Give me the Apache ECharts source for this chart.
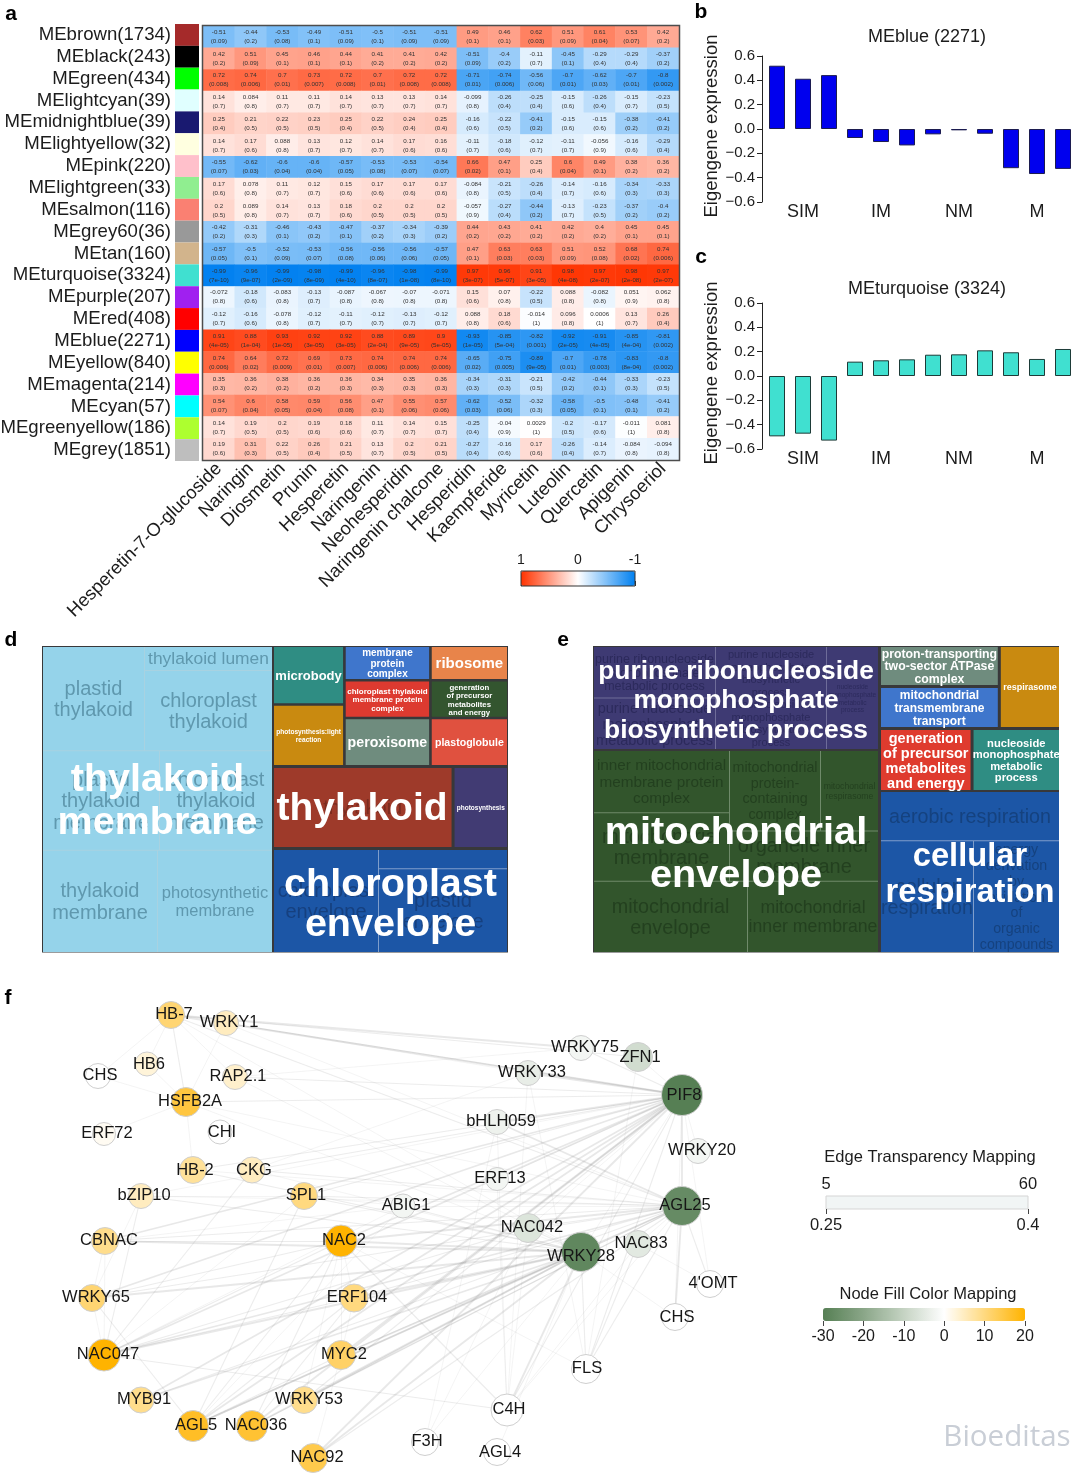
<!DOCTYPE html>
<html><head><meta charset="utf-8">
<style>html,body{margin:0;padding:0;background:#fff}#c{width:1080px;height:1474px}</style>
<script src="https://cdn.jsdelivr.net/npm/echarts@6/dist/echarts.min.js"></script>
</head><body><div id="c"></div>
<script>
/* ---------- panel a data ---------- */
const moduleLabels=['MEbrown(1734)','MEblack(243)','MEgreen(434)','MElightcyan(39)','MEmidnightblue(39)','MElightyellow(32)','MEpink(220)','MElightgreen(33)','MEsalmon(116)','MEgrey60(36)','MEtan(160)','MEturquoise(3324)','MEpurple(207)','MEred(408)','MEblue(2271)','MEyellow(840)','MEmagenta(214)','MEcyan(57)','MEgreenyellow(186)','MEgrey(1851)'];
const moduleColors=['#a52a2a','#000000','#00ff00','#e0ffff','#191970','#ffffe0','#ffc0cb','#90ee90','#fa8072','#999999','#d2b48c','#40e0d0','#a020f0','#ff0000','#0000ff','#ffff00','#ff00ff','#00ffff','#adff2f','#bebebe'];
const compounds=['Hesperetin-7-O-glucoside','Naringin','Diosmetin','Prunin','Hesperetin','Naringenin','Neohesperidin','Naringenin chalcone','Hesperidin','Kaempferide','Myricetin','Luteolin','Quercetin','Apigenin','Chrysoeriol'];
const rBrown=[-0.51,-0.44,-0.53,-0.49,-0.51,-0.5,-0.51,-0.51,0.49,0.46,0.62,0.51,0.61,0.53,0.42];
const pBrown=['0.09','0.2','0.08','0.1','0.09','0.1','0.09','0.09','0.1','0.1','0.03','0.09','0.04','0.07','0.2'];
const rBlack=[0.42,0.51,0.45,0.46,0.44,0.41,0.41,0.42,-0.51,-0.4,-0.11,-0.45,-0.29,-0.29,-0.37];
const pBlack=['0.2','0.09','0.1','0.1','0.1','0.2','0.2','0.2','0.09','0.2','0.7','0.1','0.4','0.4','0.2'];
const rGreen=[0.72,0.74,0.7,0.73,0.72,0.7,0.72,0.72,-0.71,-0.74,-0.56,-0.7,-0.62,-0.7,-0.8];
const pGreen=['0.008','0.006','0.01','0.007','0.008','0.01','0.008','0.008','0.01','0.006','0.06','0.01','0.03','0.01','0.002'];
const rLightcyan=[0.14,0.084,0.11,0.11,0.14,0.13,0.13,0.14,-0.099,-0.26,-0.25,-0.15,-0.26,-0.15,-0.23];
const pLightcyan=['0.7','0.8','0.7','0.7','0.7','0.7','0.7','0.7','0.8','0.4','0.4','0.6','0.4','0.7','0.5'];
const rMidnight=[0.25,0.21,0.22,0.23,0.25,0.22,0.24,0.25,-0.16,-0.22,-0.41,-0.15,-0.15,-0.38,-0.41];
const pMidnight=['0.4','0.5','0.5','0.5','0.4','0.5','0.4','0.4','0.6','0.5','0.2','0.6','0.6','0.2','0.2'];
const rLightyellow=[0.14,0.17,0.088,0.13,0.12,0.14,0.17,0.16,-0.11,-0.18,-0.12,-0.11,-0.056,-0.16,-0.29];
const pLightyellow=['0.7','0.6','0.8','0.7','0.7','0.7','0.6','0.6','0.7','0.6','0.7','0.7','0.9','0.6','0.4'];
const rPink=[-0.55,-0.62,-0.6,-0.6,-0.57,-0.53,-0.53,-0.54,0.66,0.47,0.25,0.6,0.49,0.38,0.36];
const pPink=['0.07','0.03','0.04','0.04','0.05','0.08','0.07','0.07','0.02','0.1','0.4','0.04','0.1','0.2','0.2'];
const rLightgreen=[0.17,0.078,0.11,0.12,0.15,0.17,0.17,0.17,-0.084,-0.21,-0.26,-0.14,-0.16,-0.34,-0.33];
const pLightgreen=['0.6','0.8','0.7','0.7','0.6','0.6','0.6','0.6','0.8','0.5','0.4','0.7','0.6','0.3','0.3'];
const rSalmon=[0.2,0.089,0.14,0.13,0.18,0.2,0.2,0.2,-0.057,-0.27,-0.44,-0.13,-0.23,-0.37,-0.4];
const pSalmon=['0.5','0.8','0.7','0.7','0.6','0.5','0.5','0.5','0.9','0.4','0.2','0.7','0.5','0.2','0.2'];
const rGrey60=[-0.42,-0.31,-0.46,-0.43,-0.47,-0.37,-0.34,-0.39,0.44,0.43,0.41,0.42,0.4,0.45,0.45];
const pGrey60=['0.2','0.3','0.1','0.2','0.1','0.2','0.3','0.2','0.2','0.2','0.2','0.2','0.2','0.1','0.1'];
const rTan=[-0.57,-0.5,-0.52,-0.53,-0.56,-0.56,-0.56,-0.57,0.47,0.63,0.63,0.51,0.52,0.68,0.74];
const pTan=['0.05','0.1','0.09','0.07','0.08','0.06','0.06','0.05','0.1','0.03','0.03','0.09','0.08','0.02','0.006'];
const rTurquoise=[-0.99,-0.96,-0.99,-0.98,-0.99,-0.96,-0.98,-0.99,0.97,0.96,0.91,0.98,0.97,0.98,0.97];
const pTurquoise=['7e-10','9e-07','2e-09','8e-09','4e-10','8e-07','1e-08','8e-10','3e-07','5e-07','3e-05','4e-08','2e-07','2e-08','2e-07'];
const rPurple=[-0.072,-0.18,-0.083,-0.13,-0.087,-0.067,-0.07,-0.071,0.15,0.07,-0.22,0.088,-0.082,0.051,0.062];
const pPurple=['0.8','0.6','0.8','0.7','0.8','0.8','0.8','0.8','0.6','0.8','0.5','0.8','0.8','0.9','0.8'];
const rRed=[-0.12,-0.16,-0.078,-0.12,-0.11,-0.12,-0.13,-0.12,0.088,0.18,-0.014,0.096,0.0006,0.13,0.26];
const pRed=['0.7','0.6','0.8','0.7','0.7','0.7','0.7','0.7','0.8','0.6','1','0.8','1','0.7','0.4'];
const rBlue=[0.91,0.88,0.93,0.92,0.92,0.88,0.89,0.9,-0.93,-0.85,-0.82,-0.92,-0.91,-0.85,-0.81];
const pBlue=['4e-05','1e-04','1e-05','3e-05','3e-05','2e-04','9e-05','5e-05','1e-05','5e-04','0.001','2e-05','4e-05','4e-04','0.002'];
const rYellow=[0.74,0.64,0.72,0.69,0.73,0.74,0.74,0.74,-0.65,-0.75,-0.89,-0.7,-0.78,-0.83,-0.8];
const pYellow=['0.006','0.02','0.009','0.01','0.007','0.006','0.006','0.006','0.02','0.005','9e-05','0.01','0.003','8e-04','0.002'];
const rMagenta=[0.35,0.36,0.38,0.36,0.36,0.34,0.35,0.36,-0.34,-0.31,-0.21,-0.42,-0.44,-0.33,-0.23];
const pMagenta=['0.3','0.2','0.2','0.2','0.3','0.3','0.3','0.3','0.3','0.3','0.5','0.2','0.1','0.3','0.5'];
const rCyan=[0.54,0.6,0.58,0.59,0.56,0.47,0.55,0.57,-0.62,-0.52,-0.32,-0.58,-0.5,-0.48,-0.41];
const pCyan=['0.07','0.04','0.05','0.04','0.08','0.1','0.06','0.06','0.03','0.06','0.3','0.05','0.1','0.1','0.2'];
const rGreenyellow=[0.14,0.19,0.2,0.19,0.18,0.11,0.14,0.15,-0.25,-0.04,0.0029,-0.2,-0.17,-0.011,0.081];
const pGreenyellow=['0.7','0.5','0.5','0.6','0.6','0.7','0.7','0.7','0.4','0.9','1','0.5','0.6','1','0.8'];
const rGrey=[0.19,0.31,0.22,0.26,0.21,0.13,0.2,0.21,-0.27,-0.16,0.17,-0.26,-0.14,-0.084,-0.094];
const pGrey=['0.6','0.3','0.5','0.4','0.5','0.7','0.5','0.5','0.4','0.6','0.6','0.4','0.7','0.8','0.8'];
const corrRows=[rBrown,rBlack,rGreen,rLightcyan,rMidnight,rLightyellow,rPink,rLightgreen,rSalmon,rGrey60,rTan,rTurquoise,rPurple,rRed,rBlue,rYellow,rMagenta,rCyan,rGreenyellow,rGrey];
const pRows=[pBrown,pBlack,pGreen,pLightcyan,pMidnight,pLightyellow,pPink,pLightgreen,pSalmon,pGrey60,pTan,pTurquoise,pPurple,pRed,pBlue,pYellow,pMagenta,pCyan,pGreenyellow,pGrey];

/* ---------- panels b, c data ---------- */
const sampleTicks=['','SIM','','','IM','','','NM','','','M',''];
const meBlueValues=[0.52,0.413,0.443,-0.074,-0.107,-0.135,-0.044,-0.011,-0.039,-0.322,-0.37,-0.328];
const meTurquoiseValues=[-0.496,-0.474,-0.531,0.118,0.129,0.137,0.175,0.178,0.211,0.195,0.14,0.222];

/* ---------- panel d data (term names and revigo cell sizes) ---------- */
const dMembraneTerms=['plastid\nthylakoid','thylakoid lumen','chloroplast\nthylakoid','plastid\nthylakoid\nmembrane','chloroplast\nthylakoid\nmembrane','thylakoid\nmembrane','photosynthetic\nmembrane'];
const dMembraneSizes=[10608,3072,10240,11583,11187,11730,11730];
const dSmallTerms=['microbody','photosynthesis:light\nreaction','membrane\nprotein\ncomplex','chloroplast thylakoid\nmembrane protein\ncomplex','peroxisome','ribosome','generation\nof precursor\nmetabolites\nand energy','plastoglobule'];
const dSmallSizes=[3920,4130,2772,3024,3864,2508,2736,3496];
const dThylakoidTerms=['thylakoid','photosynthesis'];
const dThylakoidSizes=[13900,4270];
const dEnvelopeTerms=['chloroplast\nenvelope','stromule','plastid\nenvelope'];
const dEnvelopeSizes=[10710,2451,10707];

/* ---------- panel e data ---------- */
const ePurineTerms=['purine ribonucleoside\nmonophosphate\nmetabolic process','purine nucleoside\nmonophosphate\nmetabolic process','purine nucleoside\nmonophosphate\nbiosynthetic\nprocess\nribonucleoside\nmonophosphate\nbiosynthetic\nprocess','nucleoside\nmonophosphate\nmetabolic\nprocess'];
const ePurineSizes=[6222,6222,11322,5304];
const eMitoTerms=['inner mitochondrial\nmembrane protein\ncomplex','mitochondrial\nmembrane','mitochondrial\nprotein-\ncontaining\ncomplex','mitochondrial\nrespirasome','organelle inner\nmembrane','mitochondrial\nenvelope','mitochondrial\ninner membrane'];
const eMitoSizes=[8432,9248,7280,4640,7450,10934,9301];
const eTopTerms=['proton-transporting\ntwo-sector ATPase\ncomplex','mitochondrial\ntransmembrane\ntransport','respirasome'];
const eTopSizes=[4484,4602,4640];
const eMidTerms=['generation\nof precursor\nmetabolites\nand energy','nucleoside\nmonophosphate\nmetabolic\nprocess'];
const eMidSizes=[5400,5160];
const eRespTerms=['aerobic respiration','cellular\nrespiration','energy\nderivation\nby\noxidation\nof\norganic\ncompounds'];
const eRespSizes=[8771,10323,9546];

/* ---------- panel f data ---------- */
const nodeIds=['HB-7','WRKY1','HB6','CHS','RAP2.1','HSFB2A','ERF72','CHI','HB-2','CKG','bZIP10','SPL1','CBNAC','NAC2','WRKY65','ERF104','NAC047','MYC2','MYB91','WRKY53','AGL5','NAC036','NAC92','WRKY75','ZFN1','WRKY33','PIF8','bHLH059','WRKY20','ERF13','AGL25','ABIG1','NAC042','WRKY28','NAC83',"4'OMT",'CHS#2','FLS','C4H','F3H','AGL4'];
const nodeX=[171,226,147,98,235,186,104,220,193,252,141,304,105,341,92,354,104,341,141,304,193,252,313,581,638,528,682,497,698,497,682,403,528,581,638,710,675,586,507,425,497];
const nodeY=[1015,1023,1064,1076,1077,1102,1134,1132,1170,1170,1196,1196,1241,1241,1298,1298,1355,1355,1400,1400,1426,1426,1458,1048,1057,1073,1095,1122,1151,1179,1206,1206,1228,1252,1244,1284,1317,1369,1410,1442,1452];
const nodeScores=[11,5,3,0,4,15,1,0,8,5,5,10,9,20,11,10,20,12,9,9,17,16,14,-2,-8,-4,-30,-3,-2,-2,-27,-2,-6,-28,-5,0,0,0,0,0,0];
const nodeDegrees=[27,25,24,25,25,29,23,24,27,26,25,27,27,32,27,28,32,29,26,27,31,31,29,25,29,25,41,25,25,23,39,24,29,39,27,27,27,29,32,27,27];
const pif8Partners=[['HB-7',3],['WRKY1',2],['HSFB2A',2],['RAP2.1',2],['HB-2',2],['CKG',2],['bZIP10',1],['SPL1',2],['CBNAC',3],['NAC2',3],['WRKY65',3],['ERF104',3],['NAC047',3],['MYC2',3],['MYB91',3],['WRKY53',2],['AGL5',3],['NAC036',3],['NAC92',3],['WRKY33',3],['WRKY75',2],['ZFN1',1],['bHLH059',3],['WRKY20',1],['AGL25',3],['FLS',2],['C4H',2],['CHS#2',1],["4'OMT",1],['NAC042',1],['WRKY28',1],['ERF13',1]];
const wrky28Partners=[['HB-7',1],['RAP2.1',1],['HSFB2A',1],['HB-2',2],['CKG',1],['bZIP10',2],['SPL1',2],['CBNAC',3],['NAC2',3],['WRKY65',3],['ERF104',3],['NAC047',3],['MYC2',3],['MYB91',3],['WRKY53',3],['AGL5',3],['NAC036',3],['NAC92',3],['ABIG1',2],['FLS',2],['C4H',3],['F3H',1],['CHS#2',1],['NAC042',2],['AGL4',1]];
const agl25Partners=[['HB-7',2],['WRKY1',1],['HSFB2A',1],['HB-2',1],['CKG',2],['bZIP10',1],['SPL1',2],['CBNAC',2],['NAC2',3],['WRKY65',2],['ERF104',2],['NAC047',3],['MYC2',2],['MYB91',2],['WRKY53',2],['AGL5',3],['NAC036',2],['NAC92',2],['bHLH059',3],['ABIG1',1],['NAC042',2],['NAC83',1],['CHS#2',3],["4'OMT",2],['FLS',2],['C4H',1],['WRKY28',1]];
const leftPairs=[['HB-7','HB6',1],['HB-7','CHS',1],['HB-7','HSFB2A',2],['HB-7','RAP2.1',1],['HB-7','WRKY75',3],['HB-7','ZFN1',2],['WRKY1','HSFB2A',1],['WRKY1','WRKY33',1],['HB6','HSFB2A',1],['CHS','HSFB2A',1],['RAP2.1','WRKY75',1],['HSFB2A','ERF72',1],['HSFB2A','HB-2',1],['CKG','NAC047',2],['CKG','WRKY33',1],['bZIP10','NAC047',2],['bZIP10','WRKY65',1],['bZIP10','SPL1',1],['SPL1','AGL5',2],['SPL1','NAC047',1],['CBNAC','WRKY65',1],['CBNAC','NAC047',1],['CBNAC','NAC2',2],['CBNAC','ABIG1',1],['NAC2','WRKY65',2],['NAC2','NAC047',2],['NAC2','AGL5',2],['NAC2','NAC036',2],['NAC2','ERF104',1],['NAC2','MYC2',1],['NAC2','C4H',2],['NAC2','FLS',1],['WRKY65','AGL5',2],['WRKY65','NAC047',1],['ERF104','AGL5',2],['ERF104','NAC036',2],['ERF104','NAC047',2],['ERF104','MYC2',1],['NAC047','C4H',2],['NAC047','NAC042',2],['NAC047','ABIG1',1],['MYC2','AGL5',2],['MYC2','NAC92',1],['WRKY53','NAC2',1],['AGL5','ABIG1',1],['NAC83','FLS',2],['NAC83','C4H',1],['NAC83',"4'OMT",1],['ZFN1','FLS',1],['WRKY33','FLS',1],['WRKY33','C4H',1],['bHLH059','C4H',1],['bHLH059','F3H',1],['ERF13','C4H',1],['NAC042','F3H',1],['NAC042','C4H',1],['SPL1','ABIG1',1]];

/* ---------- styling (separate from the values above) ---------- */
const FONT='"Liberation Sans", Arial, sans-serif';
const TXT='#1c1c1c';
const darkLine='#38383a';
const scoreStops=['#567f54','#8aa688','#c5d3c3','#ffffff','#ffd97f','#ffb300'];
const labelDx=[3,3,2,2,3,4,3,2,2,2,3,2,4,3,4,3,4,3,3,5,3,4,4,4,2,4,2,4,4,3,3,3,4,0,3,3,2,1,2,2,3];
const labelDy=[-1,-1,0,-1,-1,-1,-1,0,0,0,-1,-1,-1,-1,-1,-1,-1,-1,-1,-1,-1,-1,-1,-1,0,-1,0,-1,-1,-1,-1,-1,-1,4,-1,-1,0,-1,-1,-1,0];

function nest(shape,b){
  if(typeof shape==='number'){
    const st=b.style[shape];
    return {name:b.terms[shape],value:b.sizes[shape],
      itemStyle:{color:st.fill||b.fill},
      label:{fontSize:st.fs,lineHeight:st.lh||Math.round(st.fs*1.1*10)/10,color:st.c||b.color,fontWeight:st.w||'normal'}};
  }
  return {name:'',children:shape.map(s=>nest(s,b))};
}
function treeBlock(rect,rho,gap,line,b,shape){
  return {type:'treemap',left:rect[0],top:rect[1],width:rect[2],height:rect[3],squareRatio:rho,sort:false,
    roam:false,nodeClick:false,silent:true,animation:false,breadcrumb:{show:false},visibleMin:0,
    itemStyle:{gapWidth:gap,borderWidth:0,borderColor:line},
    label:{show:true,overflow:'none',padding:0,fontFamily:FONT,position:'inside',offset:[0,1]},
    data:shape.map(s=>nest(s,b))};
}
function overlay(rect,name,fs,lh){
  return {type:'treemap',z:5,left:rect[0],top:rect[1],width:rect[2],height:rect[3],sort:false,
    roam:false,nodeClick:false,silent:true,animation:false,breadcrumb:{show:false},
    itemStyle:{gapWidth:0,borderWidth:0,borderColor:'rgba(0,0,0,0)',color:'rgba(0,0,0,0)'},
    label:{show:true,overflow:'none',padding:0,fontFamily:FONT,position:'inside',fontWeight:'bold',color:'#fff',fontSize:fs,lineHeight:lh},
    data:[{name:name,value:1,itemStyle:{color:'rgba(0,0,0,0)'}}]};
}
const W='#ffffff',B='bold';
const dMembrane={terms:dMembraneTerms,sizes:dMembraneSizes,fill:'#95d3ea',color:'#5f98ae',
  style:[{fs:20,lh:21},{fs:17.4},{fs:20,lh:21},{fs:20,lh:21.5},{fs:20,lh:21.5},{fs:20,lh:21.5},{fs:16.5,lh:18.5}]};
const dSmall={terms:dSmallTerms,sizes:dSmallSizes,color:W,
  style:[{fill:'#2f8d83',fs:13,w:B},{fill:'#c98a10',fs:6.6,lh:7.6,w:B},{fill:'#3f76cc',fs:10,lh:10.4,w:B},{fill:'#dd3a30',fs:8,lh:8.5,w:B},{fill:'#6f8c7e',fs:14.2,w:B},{fill:'#e8844a',fs:15,w:B},{fill:'#33552f',fs:7.8,lh:8.4,w:B},{fill:'#e0513f',fs:10.6,w:B}]};
const dThylakoid={terms:dThylakoidTerms,sizes:dThylakoidSizes,color:'#7a2c20',
  style:[{fill:'#9e3a2a',fs:20},{fill:'#413b73',fs:6.5,w:B,c:W}]};
const dEnvelope={terms:dEnvelopeTerms,sizes:dEnvelopeSizes,fill:'#1c56a6',color:'#16407f',
  style:[{fs:20,lh:21},{fs:18.7},{fs:20,lh:21}]};
const ePurine={terms:ePurineTerms,sizes:ePurineSizes,fill:'#3e3a73',color:'#2c2a5c',
  style:[{fs:12.5,lh:13.5},{fs:14.5,lh:16},{fs:11,lh:12.5},{fs:6.6,lh:7.6}]};
const eMito={terms:eMitoTerms,sizes:eMitoSizes,fill:'#32552c',color:'#23401f',
  style:[{fs:15.3,lh:16.5},{fs:20,lh:21.5},{fs:14.3,lh:15.5},{fs:8.7,lh:10},{fs:20,lh:21.5},{fs:19.8,lh:21.5},{fs:17.7,lh:19}]};
const eTop={terms:eTopTerms,sizes:eTopSizes,color:W,
  style:[{fill:'#6f8c7e',fs:12.3,lh:12.6,w:B},{fill:'#3f76cc',fs:12,lh:13,w:B},{fill:'#c98a10',fs:9,w:B}]};
const eMid={terms:eMidTerms,sizes:eMidSizes,color:W,
  style:[{fill:'#df3b2e',fs:14.5,lh:15,w:B},{fill:'#2f8d83',fs:11.2,lh:11.6,w:B}]};
const eResp={terms:eRespTerms,sizes:eRespSizes,fill:'#1c56a6',color:'#15427f',
  style:[{fs:19.7},{fs:19.7,lh:21},{fs:14.2,lh:15.8}]};

const heatData=[];
corrRows.forEach((row,r)=>row.forEach((v,c)=>heatData.push([c,r,v])));
const nodes=nodeIds.map((id,i)=>({id:id,name:id.replace(/#.*/,''),value:[nodeX[i],nodeY[i],nodeScores[i]],symbolSize:nodeDegrees[i],
  itemStyle:{color:echarts.color.lerp((nodeScores[i]+30)/50,scoreStops)},
  label:{offset:[labelDx[i],labelDy[i]]}}));
const mk=(a,b,w)=>({source:a,target:b,lineStyle:{width:[0.7,1.1,1.8][w-1],opacity:[0.14,0.17,0.2][w-1]}});
const links=[].concat(
  pif8Partners.map(p=>mk('PIF8',p[0],p[1])),
  wrky28Partners.map(p=>mk('WRKY28',p[0],p[1])),
  agl25Partners.map(p=>mk('AGL25',p[0],p[1])),
  leftPairs.map(p=>mk(p[0],p[1],p[2])));

const tx=(text,x,y,fs,o)=>Object.assign({type:'text',x:x,y:y,z:100,silent:true,style:Object.assign({text:text,textAlign:'center',textVerticalAlign:'middle',fontSize:fs,fontFamily:FONT,fill:TXT},o||{})});
const eig=(i,vals,fill,stroke)=>({type:'bar',xAxisIndex:i,yAxisIndex:i,data:vals,barWidth:16,silent:true,animation:false,itemStyle:{color:fill,borderColor:stroke,borderWidth:1}});
const hidden={show:false};
function eigAxes(){return {
  x:{type:'category',data:sampleTicks,axisLine:{show:false,onZero:false},axisTick:{show:false},axisLabel:{interval:0,fontSize:18,fontFamily:FONT,color:TXT,margin:1}},
  y:{type:'value',min:-0.6,max:0.6,interval:0.2,offset:2,splitLine:hidden,axisLine:{show:true,lineStyle:{color:'#222',width:1}},axisTick:{show:true,length:5,lineStyle:{color:'#222'}},
    axisLabel:{fontSize:15,fontFamily:FONT,color:TXT,margin:7,formatter:v=>{const s=(Math.abs(v)<1e-9?0:v).toFixed(1);return s.replace('-','\u2212');}},
    name:'Eigengene expression',nameLocation:'middle',nameGap:35,nameRotate:90,nameTextStyle:{fontSize:18.5,fontFamily:FONT,color:TXT,padding:[0,0,0,6]}}};}
const eA=eigAxes(),eB=eigAxes();
const noBounds={outerBoundsMode:'none',containLabel:false};

const option={
  animation:false,backgroundColor:'#ffffff',textStyle:{fontFamily:FONT},
  grid:[
    {left:175,top:24,width:24,height:437},
    {left:203,top:26,width:476,height:434},
    {left:764,top:56,width:312,height:146},
    {left:764,top:303,width:312,height:146},
    {left:521,top:571,width:114,height:15},
    {left:826,top:1196,width:202,height:13,show:true,backgroundColor:'#f1f5f5',borderColor:'#d5d5d5',borderWidth:1},
    {left:823,top:1308,width:202,height:13},
    {left:0,top:980,width:780,height:494}
  ].map(g=>Object.assign(g,noBounds)),
  xAxis:[
    {gridIndex:0,type:'value',min:0,max:1,show:false},
    {gridIndex:1,type:'category',data:compounds,axisLine:hidden,axisTick:hidden,splitLine:hidden,
      axisLabel:{interval:0,rotate:45,fontSize:18.4,fontFamily:FONT,color:TXT,margin:6,hideOverlap:false}},
    Object.assign({gridIndex:2},eA.x),
    Object.assign({gridIndex:3},eB.x),
    {gridIndex:4,type:'value',min:-1,max:1,interval:1,inverse:true,position:'top',splitLine:hidden,axisLine:hidden,
      axisTick:{show:true,length:5,lineStyle:{color:'#333'}},axisLabel:{fontSize:14,fontFamily:FONT,color:TXT,margin:4,formatter:v=>String(v)}},
    {gridIndex:5,type:'category',boundaryGap:false,position:'top',data:['5','60'],axisLine:hidden,axisTick:hidden,
      axisLabel:{interval:0,fontSize:16.5,fontFamily:FONT,color:TXT,margin:3}},
    {gridIndex:5,type:'category',boundaryGap:false,position:'bottom',data:['0.25','0.4'],axisLine:hidden,
      axisTick:{show:true,length:5,alignWithLabel:true,lineStyle:{color:'#444'}},
      axisLabel:{interval:0,fontSize:16.5,fontFamily:FONT,color:TXT,margin:8}},
    {gridIndex:6,type:'value',min:-30,max:20,interval:10,splitLine:hidden,axisLine:hidden,
      axisTick:{show:true,length:5,lineStyle:{color:'#444'}},axisLabel:{fontSize:16,fontFamily:FONT,color:TXT,margin:8,showMinLabel:true,showMaxLabel:true}},
    {gridIndex:7,type:'value',min:0,max:780,show:false}
  ],
  yAxis:[
    {gridIndex:0,type:'category',inverse:true,data:moduleLabels,axisLine:hidden,axisTick:hidden,
      axisLabel:{interval:0,fontSize:18.6,fontFamily:FONT,color:TXT,margin:4}},
    {gridIndex:1,type:'category',inverse:true,data:moduleLabels,axisLine:hidden,axisTick:hidden,axisLabel:hidden,splitLine:hidden},
    Object.assign({gridIndex:2},eA.y),
    Object.assign({gridIndex:3},eB.y),
    {gridIndex:4,type:'value',min:0,max:1,show:false},
    {gridIndex:5,type:'value',min:0,max:1,show:false},
    {gridIndex:6,type:'value',min:0,max:1,show:false},
    {gridIndex:7,type:'value',min:980,max:1474,inverse:true,show:false}
  ],
  visualMap:[
    {seriesIndex:1,dimension:2,min:-1,max:1,orient:'horizontal',inverse:true,left:521,top:571,itemWidth:15,itemHeight:114,padding:0,
      calculable:false,showLabel:false,hoverLink:false,inRange:{color:['#0080f0','#ffffff','#ff3300']},textStyle:{fontSize:0}},
    {seriesIndex:[],min:-30,max:20,orient:'horizontal',left:823,top:1308,itemWidth:13,itemHeight:202,padding:0,
      calculable:false,showLabel:false,hoverLink:false,inRange:{color:scoreStops},textStyle:{fontSize:0}}
  ],
  series:[
    {type:'bar',xAxisIndex:0,yAxisIndex:0,silent:true,animation:false,barWidth:'100%',
      data:moduleColors.map(c=>({value:1,itemStyle:{color:c}}))},
    {type:'heatmap',xAxisIndex:1,yAxisIndex:1,silent:true,animation:false,data:heatData,
      label:{show:true,fontSize:6.2,lineHeight:9,fontFamily:FONT,color:'#333',
        formatter:p=>p.data[2]+'\n('+pRows[p.data[1]][p.data[0]]+')'},itemStyle:{borderWidth:0}},
    eig(2,meBlueValues,'#0000ee','#1c1c50'),
    eig(3,meTurquoiseValues,'#40e0d0','#1d3b38'),
    {type:'graph',coordinateSystem:'cartesian2d',xAxisIndex:8,yAxisIndex:7,layout:'none',silent:true,animation:false,
      data:nodes,links:links,symbol:'circle',
      itemStyle:{borderColor:'#cfcfcf',borderWidth:1},
      lineStyle:{color:'#8c8c8c',curveness:0},
      label:{show:true,position:'inside',fontSize:16.5,fontFamily:FONT,color:'#161616',formatter:'{b}'},
      emphasis:{disabled:true}},
    treeBlock([43,647,229,305],1.28,1,'#a8d2e1',dMembrane,[[0,[1,2]],[[3,4],[5,6]]]),
    treeBlock([274,647,233,118],1.28,2.6,darkLine,dSmall,[[0,1],[[[2,3],4],[[5,6],7]]]),
    treeBlock([274,768,233,79],1.28,3,darkLine,dThylakoid,[0,1]),
    treeBlock([274,850,233,102],1.5,1,'#7f9ecb',dEnvelope,[0,[1,2]]),
    treeBlock([594,647,284,102],2,1,'#6e6c99',ePurine,[[0,1],[2,3]]),
    treeBlock([594,751,284,201],2,1,'#6f8a6a',eMito,[[[0,1],[[2,3],4]],[5,6]]),
    treeBlock([881,647,178,80],2,3,darkLine,eTop,[[0,1],2]),
    treeBlock([881,730,178,60],1,3,darkLine,eMid,[0,1]),
    treeBlock([881,792,178,160],1.3,1,'#7f9ecb',eResp,[0,[1,2]]),
    overlay([43,649,229,305],'thylakoid\nmembrane',39.5,43),
    overlay([274,770,176,79],'thylakoid',39,43),
    overlay([274,854,233,102],'chloroplast\nenvelope',39.5,40),
    overlay([594,650,284,102],'purine ribonucleoside\nmonophosphate\nbiosynthetic process',26.4,29.5),
    overlay([594,754,284,201],'mitochondrial\nenvelope',39.7,43),
    overlay([881,795,178,160],'cellular\nrespiration',32.7,36.7)
  ],
  graphic:[
    {type:'rect',z:-1,silent:true,shape:{x:42,y:646,width:466,height:306.5},style:{fill:darkLine}},
    {type:'rect',z:-1,silent:true,shape:{x:593,y:646,width:466,height:306.5},style:{fill:darkLine}},
    {type:'rect',z:100,silent:true,shape:{x:202.5,y:25.5,width:477,height:435},style:{fill:'none',stroke:'#4d4d4d',lineWidth:1.5}},
    {type:'rect',z:100,silent:true,shape:{x:521,y:571,width:114,height:15},style:{fill:'none',stroke:'#333',lineWidth:1}},
    tx('a',11,14,21,{fontWeight:'bold',fill:'#000'}),
    tx('b',701,12,21,{fontWeight:'bold',fill:'#000'}),
    tx('c',701,257,21,{fontWeight:'bold',fill:'#000'}),
    tx('d',11,640,21,{fontWeight:'bold',fill:'#000'}),
    tx('e',563,640,21,{fontWeight:'bold',fill:'#000'}),
    tx('f',8,998,21,{fontWeight:'bold',fill:'#000'}),
    tx('MEblue (2271)',927,37,18),
    tx('MEturquoise (3324)',927,289,18),
    tx('Edge Transparency Mapping',930,1157,16.5),
    tx('Node Fill Color Mapping',928,1294,16.5),
    tx('Bioeditas',1007,1438,29.5,{fill:'#c9ced6',fontFamily:'"Open Sans", sans-serif'})
  ]
};
const chart=echarts.init(document.getElementById('c'),null,{renderer:'canvas',width:1080,height:1474});
chart.setOption(option);
</script></body></html>
